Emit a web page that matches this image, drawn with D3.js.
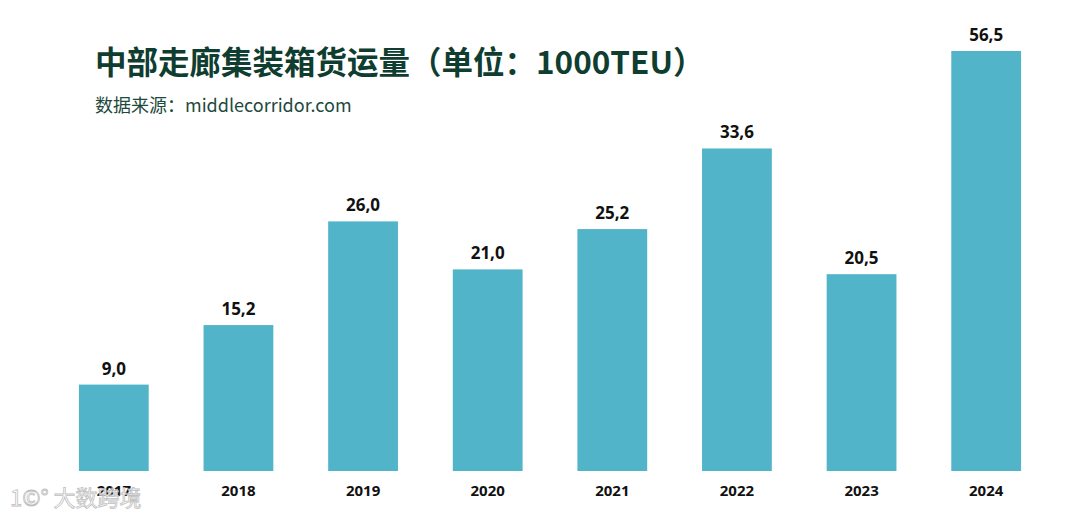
<!DOCTYPE html>
<html><head><meta charset="utf-8">
<script src="https://cdn.jsdelivr.net/npm/d3@7"></script>
<style>body{margin:0;background:#fff}svg{display:block}</style>
</head><body>
<script>
const years = ["2017","2018","2019","2020","2021","2022","2023","2024"];
const volumes = [9.0, 15.2, 26.0, 21.0, 25.2, 33.6, 20.5, 56.5];
const valueLabels = ["9,0","15,2","26,0","21,0","25,2","33,6","20,5","56,5"];
const title = "中部走廊集装箱货运量（单位：1000TEU）";
const subtitle = "数据来源：middlecorridor.com";

const W = 1080, H = 517;
const svg = d3.select("body").append("svg").attr("width", W).attr("height", H);
const font = "'Noto Sans','Open Sans','Noto Sans CJK SC',sans-serif";

const x = d3.scaleBand().domain(years).range([54, 1046]).paddingInner(0.44).paddingOuter(0.2);
const y = d3.scaleLinear().domain([0, 43.75]).range([471, 51]).clamp(true);

svg.append("text").attr("x", 95).attr("y", 74).attr("fill", "#0f3d30")
  .attr("font-family", "'Noto Sans CJK SC','Noto Sans',sans-serif").attr("font-weight", 700)
  .attr("font-size", 31.5).text(title);
svg.append("text").attr("x", 95).attr("y", 112).attr("fill", "#1d4a3d")
  .attr("font-family", "'Noto Sans CJK SC','Noto Sans',sans-serif")
  .attr("font-size", 18).text(subtitle);

svg.selectAll("rect.bar").data(years).join("rect").attr("class","bar")
  .attr("x", d => x(d)).attr("width", x.bandwidth())
  .attr("y", (d,i) => y(volumes[i])).attr("height", (d,i) => y(0) - y(volumes[i]))
  .attr("fill", "#52b4c9");

svg.selectAll("text.val").data(years).join("text").attr("class","val")
  .attr("x", d => x(d) + x.bandwidth()/2).attr("y", (d,i) => y(volumes[i]) - 10)
  .attr("text-anchor","middle").attr("font-family", font).attr("font-weight",700)
  .attr("font-size",17).attr("fill","#111").text((d,i) => valueLabels[i]);

const xAxis = svg.append("g").attr("transform", `translate(0,${y(0)})`)
  .call(d3.axisBottom(x).tickSize(0).tickPadding(14));
xAxis.select(".domain").remove();
xAxis.selectAll("text").attr("font-family", font).attr("font-weight",700)
  .attr("font-size",15).attr("fill","#111");

// watermark
svg.append("text").attr("x", 10).attr("y", 506).attr("fill","#ffffff")
  .attr("stroke","#b9b9b9").attr("stroke-width",0.8).attr("opacity",0.9)
  .attr("font-family","'Noto Sans CJK SC',sans-serif").attr("font-size",22)
  .text("1©° 大数跨境");
</script>
</body></html>
